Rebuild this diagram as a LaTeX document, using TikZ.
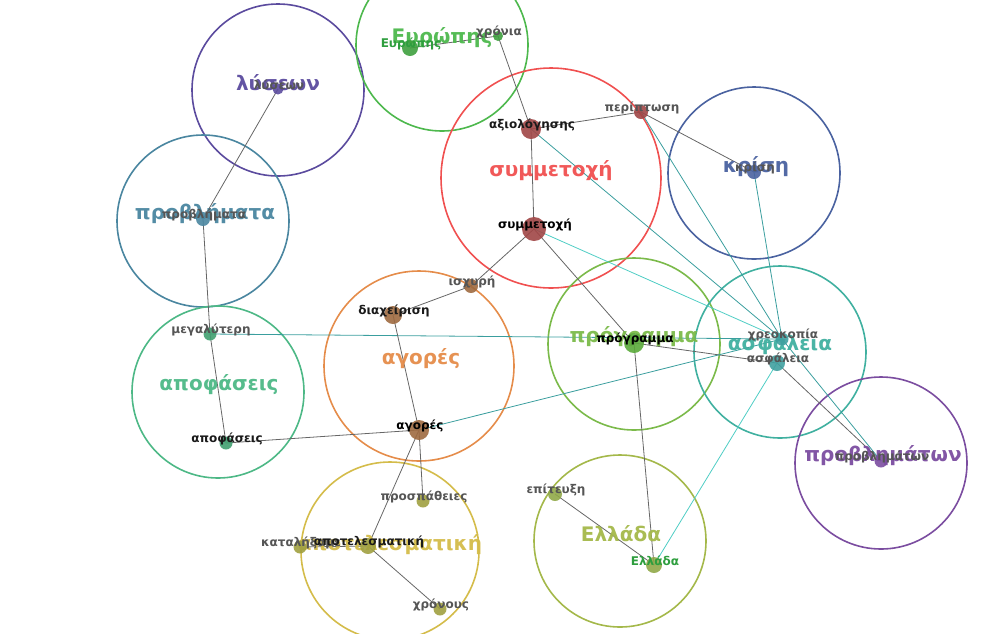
\documentclass[tikz,border=0pt]{standalone}
\usepackage{fontspec}
\setmainfont{DejaVu Sans}
\usetikzlibrary{calc}
\pgfdeclarelayer{bg}
\pgfdeclarelayer{mid}
\pgfdeclarelayer{fg}
\pgfsetlayers{bg,mid,main,fg}
\definecolor{cLys}{HTML}{5B4B9E}
\definecolor{cEur}{HTML}{4DB84D}
\definecolor{cSym}{HTML}{F05050}
\definecolor{cKri}{HTML}{4A62A0}
\definecolor{cPro}{HTML}{4A86A0}
\definecolor{cAgo}{HTML}{E58C4A}
\definecolor{cPrg}{HTML}{7BBA4A}
\definecolor{cAsf}{HTML}{40B0A0}
\definecolor{cApo}{HTML}{4DB886}
\definecolor{cPbm}{HTML}{7B4DA0}
\definecolor{cAte}{HTML}{D4BC4A}
\definecolor{cEll}{HTML}{A4B84A}
\definecolor{dRed}{HTML}{A04646}
\definecolor{dBrn}{HTML}{9E6A40}
\definecolor{dGrn}{HTML}{40A070}
\definecolor{dPrg}{HTML}{5AAA3A}
\definecolor{dTea}{HTML}{40A0A0}
\definecolor{dOli}{HTML}{A0A040}
\definecolor{dEll}{HTML}{90A848}
\definecolor{dEur}{HTML}{3EA03E}
\definecolor{tGrn}{HTML}{2E9E3E}
\definecolor{tGry}{HTML}{555555}
\definecolor{tDrk}{HTML}{1A1A1A}
\definecolor{eGry}{HTML}{666666}
\definecolor{eTea}{HTML}{3A9E9E}
\definecolor{eCya}{HTML}{4ECDC4}
\tikzset{
  clus/.style={draw=#1, line width=1.6pt, fill=none, circle, inner sep=0pt},
  biglab/.style={text=#1, font=\fontsize{20}{24}\selectfont\bfseries, inner sep=0pt, opacity=0.95},
  dotnode/.style={circle, fill=#1, inner sep=0pt, opacity=0.9},
  smalllab/.style={text=#1, font=\fontsize{12}{14}\selectfont\bfseries, inner sep=0pt},
  egry/.style={draw=eGry, line width=0.8pt},
  etea/.style={draw=eTea, line width=0.8pt},
  ecya/.style={draw=eCya, line width=0.8pt}
}
\newcommand\mykw[5]{%
  \node[dotnode=#5, minimum size=#4] (#1) at (#2,#3) {};
}
\newcommand\mykwlab[3]{%
  \node[smalllab=#2] at ($(#1)+(1,-4)$) {#3};
}
\begin{document}
\begin{tikzpicture}[x=1pt,y=-1pt]
\useasboundingbox (0,0) rectangle (990,633);
% dots (main layer)
\mykw{lys}{278}{89}{11}{cLys}
\mykw{eur}{410}{48}{16}{dEur}
\mykw{xro}{498}{36}{10}{dEur}
\mykw{axi}{531}{129}{20}{dRed}
\mykw{per}{641}{112}{14}{dRed}
\mykw{kri}{754}{172}{14}{cKri}
\mykw{sym}{534}{229}{24}{dRed}
\mykw{isx}{471}{286}{14}{dBrn}
\mykw{dia}{393}{315}{18}{dBrn}
\mykw{pbl}{203}{219}{14}{cPro}
\mykw{meg}{210}{334}{13}{dGrn}
\mykw{apo}{226}{443}{13}{dGrn}
\mykw{ago}{419}{430}{20}{dBrn}
\mykw{prg}{634}{343}{20}{dPrg}
\mykw{xre}{782}{339}{13}{dTea}
\mykw{asf}{777}{363}{16}{dTea}
\mykw{pbm}{881}{461}{13}{cPbm}
\mykw{pro}{423}{501}{13}{dOli}
\mykw{kat}{300}{547}{13}{dOli}
\mykw{ate}{368}{546}{16}{dOli}
\mykw{xrn}{440}{609}{13}{dOli}
\mykw{epi}{555}{494}{14}{dEll}
\mykw{ell}{654}{565}{16}{dEll}
% cluster circles
\begin{pgfonlayer}{bg}
\node[clus=cLys, minimum size=172] (cl1) at (278,90) {};
\node[clus=cEur, minimum size=172] (cl2) at (442,45) {};
\node[clus=cSym, minimum size=220] (cl3) at (551,178) {};
\node[clus=cKri, minimum size=172] (cl4) at (754,173) {};
\node[clus=cPro, minimum size=172] (cl5) at (203,221) {};
\node[clus=cAgo, minimum size=190] (cl6) at (419,366) {};
\node[clus=cPrg, minimum size=172] (cl7) at (634,344) {};
\node[clus=cAsf, minimum size=172] (cl8) at (780,352) {};
\node[clus=cApo, minimum size=172] (cl9) at (218,392) {};
\node[clus=cPbm, minimum size=172] (cl10) at (881,463) {};
\node[clus=cAte, minimum size=178] (cl11) at (390,551) {};
\node[clus=cEll, minimum size=172] (cl12) at (620,541) {};
\end{pgfonlayer}
% edges and big labels
\begin{pgfonlayer}{mid}
\draw[egry] (lys.center) -- (pbl.center);
\draw[egry] (pbl.center) -- (meg.center);
\draw[egry] (meg.center) -- (apo.center);
\draw[etea] (meg.center) -- (xre.center);
\draw[egry] (apo.center) -- (ago.center);
\draw[egry] (ago.center) -- (dia.center);
\draw[egry] (dia.center) -- (isx.center);
\draw[egry] (isx.center) -- (sym.center);
\draw[egry] (sym.center) -- (axi.center);
\draw[egry] (axi.center) -- (xro.center);
\draw[egry] (xro.center) -- (eur.center);
\draw[egry] (axi.center) -- (per.center);
\draw[egry] (per.center) -- (kri.center);
\draw[etea] (per.center) -- (xre.center);
\draw[etea] (axi.center) -- (xre.center);
\draw[etea] (kri.center) -- (xre.center);
\draw[ecya] (sym.center) -- (xre.center);
\draw[egry] (sym.center) -- (prg.center);
\draw[egry] (prg.center) -- (asf.center);
\draw[etea] (ago.center) -- (xre.center);
\draw[egry] (ago.center) -- (pro.center);
\draw[egry] (ago.center) -- (ate.center);
\draw[egry] (ate.center) -- (kat.center);
\draw[egry] (ate.center) -- (xrn.center);
\draw[egry] (prg.center) -- (ell.center);
\draw[egry] (epi.center) -- (ell.center);
\draw[ecya] (ell.center) -- (asf.center);
\draw[egry] (asf.center) -- (pbm.center);
\draw[etea] (xre.center) -- (pbm.center);
\node[biglab=cLys] at ($(cl1)+(0,-7)$) {λύσεων};
\node[biglab=cEur] at ($(cl2)+(0,-7)$) {Ευρώπης};
\node[biglab=cSym] at ($(cl3)+(0,-7)$) {συμμετοχή};
\node[biglab=cKri] at ($(cl4)+(2,-6)$) {κρίση};
\node[biglab=cPro] at ($(cl5)+(2,-7)$) {προβλήματα};
\node[biglab=cAgo] at ($(cl6)+(2,-7)$) {αγορές};
\node[biglab=cPrg] at ($(cl7)+(0,-7)$) {πρόγραμμα};
\node[biglab=cAsf] at ($(cl8)+(0,-7)$) {ασφάλεια};
\node[biglab=cApo] at ($(cl9)+(1,-7)$) {αποφάσεις};
\node[biglab=cPbm] at ($(cl10)+(2,-7)$) {προβλημάτων};
\node[biglab=cAte] at ($(cl11)+(0,-6)$) {αποτελεσματική};
\node[biglab=cEll] at ($(cl12)+(1,-7)$) {Ελλάδα};
\end{pgfonlayer}
% small labels
\begin{pgfonlayer}{fg}
\mykwlab{lys}{tGry}{λύσεων}
\mykwlab{eur}{tGrn}{Ευρώπης}
\mykwlab{xro}{tGry}{χρόνια}
\mykwlab{axi}{tDrk}{αξιολόγησης}
\mykwlab{per}{tGry}{περίπτωση}
\mykwlab{kri}{tGry}{κρίση}
\mykwlab{sym}{black}{συμμετοχή}
\mykwlab{isx}{tGry}{ισχυρή}
\mykwlab{dia}{tDrk}{διαχείριση}
\mykwlab{pbl}{tGry}{προβλήματα}
\mykwlab{meg}{tGry}{μεγαλύτερη}
\mykwlab{apo}{tDrk}{αποφάσεις}
\mykwlab{ago}{black}{αγορές}
\mykwlab{prg}{black}{πρόγραμμα}
\mykwlab{xre}{tGry}{χρεοκοπία}
\mykwlab{asf}{tGry}{ασφάλεια}
\mykwlab{pbm}{tGry}{προβλημάτων}
\mykwlab{pro}{tGry}{προσπάθειες}
\mykwlab{kat}{tGry}{καταλήξαμε}
\mykwlab{ate}{tDrk}{αποτελεσματική}
\mykwlab{xrn}{tGry}{χρόνους}
\mykwlab{epi}{tGry}{επίτευξη}
\mykwlab{ell}{tGrn}{Ελλάδα}
\end{pgfonlayer}
\end{tikzpicture}
\end{document}
